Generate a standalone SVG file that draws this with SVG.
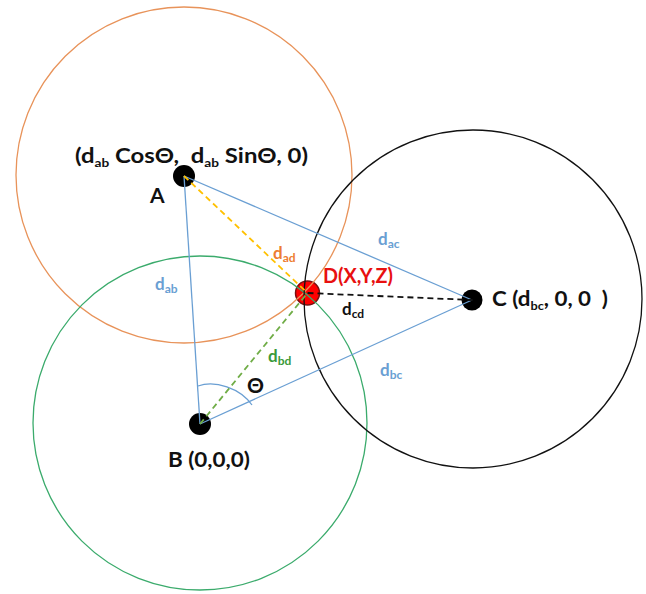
<svg xmlns="http://www.w3.org/2000/svg" width="646" height="594" viewBox="0 0 646 594">
<style>
.lbl{font-family:Lato,"Liberation Sans",sans-serif;font-weight:bold;font-size:21px;fill:#111}
.sm{font-family:Lato,"Liberation Sans",sans-serif;font-size:17px;font-weight:bold}
.sub{font-size:12px}
.dot{fill:#000}
.edge{stroke:#6a9fd3;stroke-width:1.3;fill:none}
.range{fill:none;stroke-width:1.3}
.dash{fill:none;stroke-width:1.8;stroke-dasharray:6 4}
</style>
<rect width="646" height="594" fill="#fff"/>
<g id="node-A">
<circle class="dot" cx="184" cy="176" r="11"/>
<text class="lbl" x="150" y="203">A</text>
<text class="lbl" x="75" y="163" xml:space="preserve" textLength="233" lengthAdjust="spacingAndGlyphs">(d<tspan class="sub" dy="4">ab</tspan><tspan dy="-4"> CosΘ,  d</tspan><tspan class="sub" dy="4">ab</tspan><tspan dy="-4"> SinΘ, 0)</tspan></text>
</g>
<g id="node-B">
<circle class="dot" cx="200" cy="424" r="11"/>
<text class="lbl" x="168" y="467" textLength="82" lengthAdjust="spacingAndGlyphs">B (0,0,0)</text>
</g>
<g id="node-C">
<circle class="dot" cx="472" cy="300" r="10.5"/>
<text class="lbl" x="492" y="306" xml:space="preserve" textLength="116" lengthAdjust="spacingAndGlyphs">C (d<tspan class="sub" dy="4">bc</tspan><tspan dy="-4">, 0, 0  )</tspan></text>
</g>
<g id="node-D">
<circle cx="307.5" cy="293" r="12" fill="#f00" stroke="#7a1010" stroke-width="1.5"/>
<text class="lbl" x="323" y="283" style="fill:#e81010" textLength="70" lengthAdjust="spacingAndGlyphs">D(X,Y,Z)</text>
</g>
<g id="ranges">
<circle class="range" cx="184" cy="175" r="168" stroke="#e8935a"/>
<circle class="range" cx="200" cy="423" r="167" stroke="#3bab6c"/>
<circle class="range" cx="473" cy="299" r="169" stroke="#111"/>
</g>
<g id="connectors">
<line class="edge" x1="184" y1="176" x2="200" y2="424"/>
<line class="edge" x1="184" y1="176" x2="472" y2="300"/>
<line class="edge" x1="200" y1="424" x2="472" y2="300"/>
<path class="edge" d="M198,386 C215,380 240,388 252,405"/>
<line class="dash" x1="184" y1="176" x2="307.5" y2="293" stroke="#ffc000"/>
<line class="dash" x1="200" y1="424" x2="307.5" y2="293" stroke="#70ad47"/>
<line class="dash" x1="307.5" y1="293" x2="472" y2="300" stroke="#111"/>
<text class="sm" x="155" y="290" fill="#6a9fd3">d<tspan class="sub" dy="3">ab</tspan></text>
<text class="sm" x="273" y="259" fill="#ed7d31">d<tspan class="sub" dy="3">ad</tspan></text>
<text class="sm" x="378" y="245" fill="#6a9fd3">d<tspan class="sub" dy="3">ac</tspan></text>
<text class="sm" x="380" y="376" fill="#6a9fd3">d<tspan class="sub" dy="3">bc</tspan></text>
<text class="sm" x="268" y="362" fill="#3a9a3a">d<tspan class="sub" dy="3">bd</tspan></text>
<text class="sm" x="342" y="315" fill="#111">d<tspan class="sub" dy="3">cd</tspan></text>
<text class="lbl" x="247" y="393" style="font-size:21px">Θ</text>
</g>
</svg>
